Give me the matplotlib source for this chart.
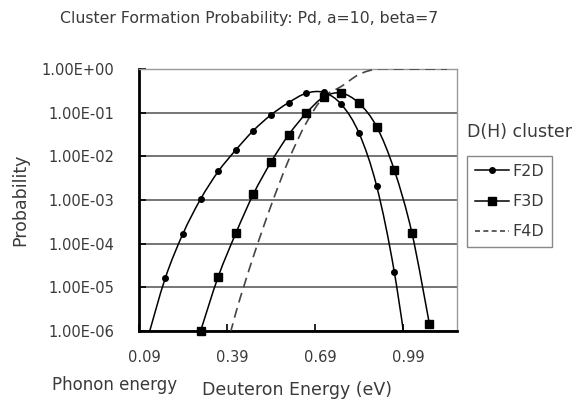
import numpy as np
import matplotlib
matplotlib.use("Agg")
import matplotlib.pyplot as plt
import matplotlib.transforms as mtransforms
from matplotlib.path import Path
from matplotlib.patches import PathPatch
from matplotlib.lines import Line2D

# ---- data ----
x_f2d = [0.12, 0.18, 0.24, 0.30, 0.36, 0.42, 0.48, 0.54, 0.60, 0.66, 0.72, 0.78, 0.84, 0.90, 0.96, 1.02]
y_f2d = [7e-7, 1.66e-5, 1.7e-4, 1.05e-3, 4.5e-3, 0.014, 0.039, 0.089, 0.17, 0.278, 0.29, 0.154, 0.034, 2.1e-3, 2.3e-5, 4.4e-8]

x_f3d = [0.30, 0.36, 0.42, 0.48, 0.54, 0.60, 0.66, 0.72, 0.78, 0.84, 0.90, 0.96, 1.02, 1.08]
y_f3d = [1.0e-6, 1.75e-5, 1.73e-4, 1.37e-3, 7.4e-3, 0.031, 0.097, 0.23, 0.28, 0.164, 0.048, 4.9e-3, 1.8e-4, 1.45e-6]

x_f4d = [0.36, 0.42, 0.48, 0.54, 0.60, 0.66, 0.72, 0.78, 0.84, 0.90, 0.96, 1.02, 1.08, 1.14]
y_f4d = [8e-8, 2.6e-6, 5.1e-5, 7.4e-4, 8.2e-3, 0.058, 0.23, 0.40, 0.75, 1.0, 1.0, 1.0, 1.0, 1.0]

x_ticks = [0.09, 0.39, 0.69, 0.99]
x_ticklabels = ["0.09", "0.39", "0.69", "0.99"]
y_ticks = [1e0, 1e-1, 1e-2, 1e-3, 1e-4, 1e-5, 1e-6]
y_ticklabels = ["1.00E+00", "1.00E-01", "1.00E-02", "1.00E-03", "1.00E-04", "1.00E-05", "1.00E-06"]
series_labels = ["F2D", "F3D", "F4D"]

W, H = 575, 401
fig = plt.figure(figsize=(W / 100, H / 100), dpi=100)
ax = fig.add_axes([139 / W, 1 - 331 / H, (457 - 139) / W, (331 - 69) / H])

ax.set_yscale("log")
ax.set_ylim(1e-6, 1.0)
ax.set_xlim(0.09, 1.174)

txt = "#3a3a3a"

# gridlines
ax.yaxis.grid(True, which="major", color="#6a6a6a", lw=1.3)
ax.set_axisbelow(True)


def smooth_path(xs, ys):
    """Smoothed (Catmull-Rom as Bezier) path through the data points,
    built in (x, log10 y) space, like a spreadsheet's smoothed line."""
    P = np.column_stack([np.asarray(xs, float), np.log10(np.asarray(ys, float))])
    verts = [P[0]]
    codes = [Path.MOVETO]
    n = len(P)
    for i in range(n - 1):
        p0 = P[i - 1] if i > 0 else P[i]
        p1, p2 = P[i], P[i + 1]
        p3 = P[i + 2] if i + 2 < n else P[i + 1]
        verts += [p1 + (p2 - p0) / 6.0, p2 - (p3 - p1) / 6.0, p2]
        codes += [Path.CURVE4] * 3
    V = np.array(verts)
    V[:, 1] = 10 ** V[:, 1]
    return Path(V, codes)


ax.add_patch(PathPatch(smooth_path(x_f2d, y_f2d), fill=False, edgecolor="black", lw=1.1, zorder=3))
ax.add_patch(PathPatch(smooth_path(x_f3d, y_f3d), fill=False, edgecolor="black", lw=1.1, zorder=3))
ax.add_patch(PathPatch(smooth_path(x_f4d, y_f4d), fill=False, edgecolor="#444444", lw=1.2,
                       linestyle=(0, (6, 3.5)), zorder=3))


# markers for points inside the value range (drawn unclipped)
def inrange(xs, ys):
    xs = np.asarray(xs); ys = np.asarray(ys)
    m = (ys >= 1e-6 * 0.999) & (ys <= 1.0)
    return xs[m], ys[m]


mx, my = inrange(x_f2d, y_f2d)
ax.plot(mx, my, ls="none", marker="o", ms=4, color="black", clip_on=False, zorder=4)
mx, my = inrange(x_f3d, y_f3d)
ax.plot(mx, my, ls="none", marker="s", ms=5.5, color="black", clip_on=False, zorder=4)

# spines
for s in ["left", "bottom"]:
    ax.spines[s].set_color("black")
    ax.spines[s].set_linewidth(2)
for s in ["top", "right"]:
    ax.spines[s].set_color("#9a9a9a")
    ax.spines[s].set_linewidth(1)

# ticks
ax.set_yticks(y_ticks)
ax.set_yticklabels(y_ticklabels)
ax.yaxis.set_minor_locator(matplotlib.ticker.NullLocator())
ax.set_xticks(x_ticks)
ax.set_xticklabels(x_ticklabels)
ax.tick_params(axis="both", direction="in", length=5, width=1.2, color="black",
               labelsize=10.5, labelcolor=txt)
ax.tick_params(axis="y", pad=18)
ax.tick_params(axis="x", pad=14)
offset = mtransforms.ScaledTranslation(5 / 100, 0, fig.dpi_scale_trans)
for lab in ax.get_xticklabels():
    lab.set_transform(lab.get_transform() + offset)

# texts
fig.text(249 / W, 1 - 18 / H, "Cluster Formation Probability: Pd, a=10, beta=7",
         ha="center", va="center", fontsize=11.3, color=txt)
fig.text(20 / W, 1 - 200 / H, "Probability", rotation=90, ha="center", va="center",
         fontsize=12.5, color=txt)
fig.text(297 / W, 1 - 390 / H, "Deuteron Energy (eV)", ha="center", va="center",
         fontsize=12.5, color=txt)
fig.text(115 / W, 1 - 385 / H, "Phonon energy", ha="center", va="center",
         fontsize=12, color=txt)
fig.text(467 / W, 1 - 132 / H, "D(H) cluster", ha="left", va="center",
         fontsize=12.5, color=txt)

# legend
handles = [
    Line2D([], [], color="black", lw=1.1, marker="o", ms=4),
    Line2D([], [], color="black", lw=1.1, marker="s", ms=5.5),
    Line2D([], [], color="#444444", lw=1.2, dashes=(3, 2)),
]
leg = fig.legend(handles, series_labels, loc="upper left",
                 bbox_to_anchor=(467 / W, 1 - 156 / H), bbox_transform=fig.transFigure,
                 borderaxespad=0, frameon=True, fancybox=False, numpoints=1,
                 fontsize=11.5, handlelength=2.1, handletextpad=0.25,
                 labelspacing=0.95, borderpad=0.5)
leg.get_frame().set_edgecolor("#6a6a6a")
leg.get_frame().set_linewidth(1.0)
for t in leg.get_texts():
    t.set_color(txt)

fig.savefig("out.png", dpi=100)
